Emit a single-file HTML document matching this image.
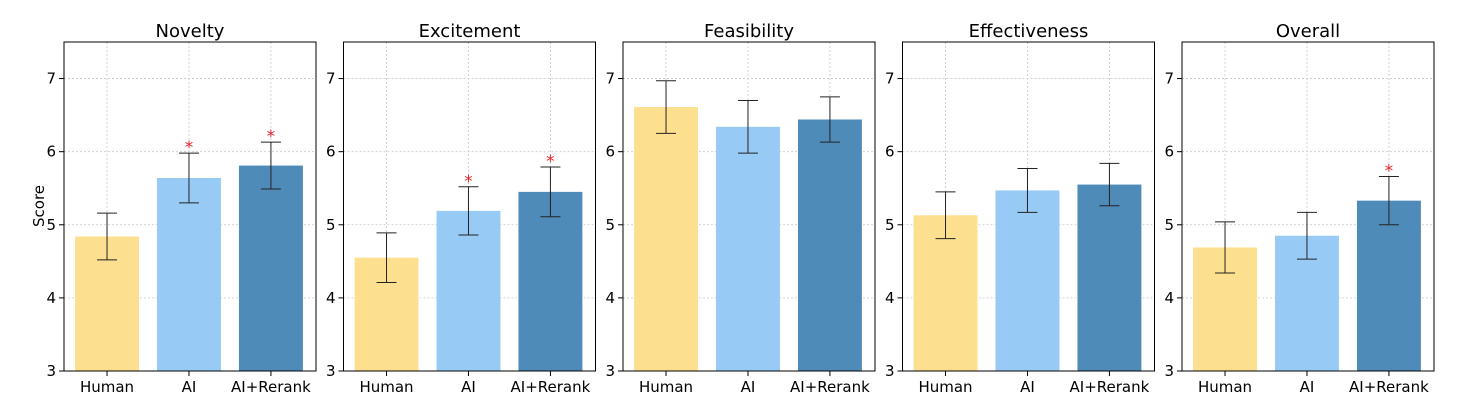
<!DOCTYPE html>
<html><head><meta charset="utf-8"><style>
body{margin:0;background:#fff;width:1463px;height:406px;overflow:hidden;font-family:"Liberation Sans","DejaVu Sans",sans-serif}
svg text{font-family:"DejaVu Sans","Liberation Sans",sans-serif}
</style></head><body>
<svg id="c" width="1463" height="406"></svg>
<script>
const panels=["Novelty","Excitement","Feasibility","Effectiveness","Overall"];
const categories=["Human","AI","AI+Rerank"];
const humanVals=[4.84,4.55,6.61,5.13,4.69];
const aiVals=[5.64,5.19,6.34,5.47,4.85];
const rerankVals=[5.81,5.45,6.44,5.55,5.33];
const humanErr=[0.32,0.34,0.36,0.32,0.35];
const aiErr=[0.34,0.33,0.36,0.30,0.32];
const rerankErr=[0.32,0.34,0.31,0.29,0.33];
const stars=[[0,1,1],[0,1,1],[0,0,0],[0,0,0],[0,0,1]];
const yTicks=[3,4,5,6,7];
const colors=["#fde08f","#97cbf6","#4f8bb9"];
const NS="http://www.w3.org/2000/svg";
const svgRoot=document.getElementById('c');
function el(t,a,p){const e=document.createElementNS(NS,t);for(const k in a)e.setAttribute(k,a[k]);(p||svgRoot).appendChild(e);return e;}
const yTop=42,yBot=371,ymin=3,ymax=7.5;
const yS=v=>yBot-(v-ymin)/(ymax-ymin)*(yBot-yTop);
const pw=252,xmin=-0.525,xmax=2.55;
const lefts=[64,343.5,623,902.5,1182];
panels.forEach((name,p)=>{
  const L=lefts[p];
  const x=v=>L+(v-xmin)/(xmax-xmin)*pw;
  const g=el('g',{});
  
  
  yTicks.forEach(t=>{
    const l=el('line',{x1:L,x2:L+pw,y1:yS(t),y2:yS(t),stroke:'#c8c8c8','stroke-width':0.8,'stroke-dasharray':'2,2'},g);
    
    
    el('line',{x1:L-5,x2:L,y1:yS(t),y2:yS(t),stroke:'#000','stroke-width':1},g);
    const tx=el('text',{x:L-8,y:yS(t)+5,'text-anchor':'end','font-size':15},g);tx.textContent=t;
    
    
  });
  const vals=[humanVals[p],aiVals[p],rerankVals[p]];
  const errs=[humanErr[p],aiErr[p],rerankErr[p]];
  categories.forEach((c,i)=>{
    const l=el('line',{x1:x(i),x2:x(i),y1:yTop,y2:yBot,stroke:'#c8c8c8','stroke-width':0.8,'stroke-dasharray':'2,2'},g);
    
    
  });
  categories.forEach((c,i)=>{
    const bw=0.78;
    const r=el('rect',{x:x(i-bw/2),y:yS(vals[i]),width:x(i+bw/2)-x(i-bw/2),height:yBot-yS(vals[i]),fill:colors[i]},g);
    
    
    const hi=vals[i]+errs[i],lo=vals[i]-errs[i];
    el('line',{x1:x(i),x2:x(i),y1:yS(hi),y2:yS(lo),stroke:'#222','stroke-width':1},g);
    el('line',{x1:x(i)-10,x2:x(i)+10,y1:yS(hi),y2:yS(hi),stroke:'#222','stroke-width':1},g);
    el('line',{x1:x(i)-10,x2:x(i)+10,y1:yS(lo),y2:yS(lo),stroke:'#222','stroke-width':1},g);
    if(stars[p][i]){
      const s=el('text',{x:x(i),y:yS(hi),'text-anchor':'middle','font-size':17,fill:'#e8202a'},g);s.textContent='*';
      
      
    }
    el('line',{x1:x(i),x2:x(i),y1:yBot,y2:yBot+5,stroke:'#000','stroke-width':1},g);
    const t=el('text',{x:x(i),y:yBot+21,'text-anchor':'middle','font-size':15},g);t.textContent=c;
    
    
  });
  const fr=el('rect',{x:L,y:yTop,width:pw,height:yBot-yTop,fill:'none',stroke:'#000','stroke-width':1},g);
  
  
  const ti=el('text',{x:L+pw/2,y:37,'text-anchor':'middle','font-size':18},g);ti.textContent=name;
  
  
});
const yl=el('text',{x:0,y:0,transform:'translate(44,206) rotate(-90)','text-anchor':'middle','font-size':15});
yl.textContent='Score';


</script>
</body></html>
